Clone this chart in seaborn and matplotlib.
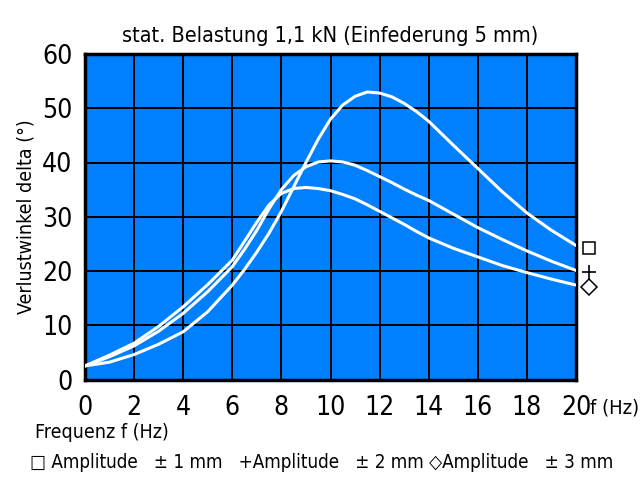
import matplotlib
matplotlib.use("Agg")
import matplotlib.pyplot as plt
import matplotlib.transforms as mtransforms
import seaborn as sns
import pandas as pd

# ---- data ----
freq = [0, 1, 2, 3, 4, 5, 6, 6.5, 7, 7.5, 8, 8.5, 9, 9.5, 10, 10.5, 11, 11.5, 12,
        12.5, 13, 13.5, 14, 15, 16, 17, 18, 19, 20]
amp1 = [2.5, 3.2, 4.6, 6.5, 8.8, 12.5, 17.4, 20.3, 23.5, 27.0, 31.0, 35.5, 40.0,
        44.3, 48.0, 50.6, 52.2, 53.0, 52.8, 52.1, 50.9, 49.4, 47.6, 43.2, 38.9,
        34.6, 30.7, 27.5, 24.7]
amp2 = [2.5, 4.2, 6.2, 8.9, 12.2, 16.2, 20.8, 24.0, 27.5, 31.5, 35.0, 37.6, 39.2,
        40.1, 40.3, 40.1, 39.5, 38.5, 37.4, 36.3, 35.1, 34.0, 33.0, 30.5, 28.0,
        25.8, 23.7, 21.8, 20.1]
amp3 = [2.5, 4.5, 6.7, 9.8, 13.4, 17.5, 22.0, 25.5, 29.0, 32.2, 34.3, 35.2, 35.4,
        35.2, 34.8, 34.1, 33.3, 32.2, 31.0, 29.8, 28.6, 27.3, 26.1, 24.2, 22.6,
        21.0, 19.7, 18.5, 17.4]
series_names = ["Amplitude ± 1 mm", "Amplitude ± 2 mm", "Amplitude ± 3 mm"]
end_markers = ["s", "+", "D"]
x_ticks = [0, 2, 4, 6, 8, 10, 12, 14, 16, 18, 20]
y_ticks = [0, 10, 20, 30, 40, 50, 60]
title = "stat. Belastung 1,1 kN (Einfederung 5 mm)"
ylabel = "Verlustwinkel delta (°)"
xlabel = "Frequenz f (Hz)"
legend_text = "□ Amplitude   ± 1 mm   +Amplitude   ± 2 mm ◇Amplitude   ± 3 mm"

sns.set_style("white")
plt.rcParams["font.family"] = ["Liberation Sans Narrow", "DejaVu Sans"]
plt.rcParams["font.stretch"] = "condensed"
plt.rcParams["text.color"] = "black"
plt.rcParams["axes.labelcolor"] = "black"
plt.rcParams["xtick.color"] = "black"
plt.rcParams["ytick.color"] = "black"

rows = []
for name, vals in zip(series_names, [amp1, amp2, amp3]):
    for f, v in zip(freq, vals):
        rows.append({"f": f, "delta": v, "series": name})
df = pd.DataFrame(rows)

fig = plt.figure(figsize=(6.42, 4.8), dpi=100)
ax = fig.add_axes([85 / 642, 1 - 379.5 / 480, (576 - 85) / 642, (379.5 - 54) / 480])
ax.set_facecolor("#0080ff")

sns.lineplot(data=df, x="f", y="delta", hue="series", palette=["white"] * 3,
             legend=False, linewidth=2.2, ax=ax, zorder=3)

ax.set_xlim(0, 20)
ax.set_ylim(0, 60)
ax.set_xticks(x_ticks)
ax.set_yticks(y_ticks)
ax.set_xticklabels([str(t) for t in x_ticks], fontsize=19)
ax.set_yticklabels([str(t) for t in y_ticks], fontsize=19)
ax.tick_params(axis="both", direction="out", length=8, width=1.3, color="black")
ax.tick_params(axis="x", pad=3)
ax.tick_params(axis="y", pad=1)
ax.grid(True, color="black", linewidth=1.4)
ax.set_axisbelow(True)
for s in ax.spines.values():
    s.set_visible(True)
    s.set_color("black")
    s.set_linewidth(2.5)
ax.set_xlabel("")
ax.set_ylabel(ylabel, fontsize=14, labelpad=5)

ax.set_title(title, fontsize=15.5, pad=9)

# end markers just outside the right edge
off = mtransforms.offset_copy(ax.transData, fig=fig, x=13, y=-2, units="dots")
for vals, m in zip([amp1, amp2, amp3], end_markers):
    if m == "+":
        ax.plot([freq[-1]], [vals[-1]], marker=m, markersize=10, color="black",
                mew=1.2, transform=off, clip_on=False, linestyle="none")
    else:
        ax.plot([freq[-1]], [vals[-1]], marker=m, markersize=9 if m == "s" else 8,
                markerfacecolor="white", markeredgecolor="black", mew=1.1,
                transform=off, clip_on=False, linestyle="none")

fig.text(590 / 642, 1 - 408 / 480, "f (Hz)", fontsize=14.5, ha="left", va="center")
fig.text(35 / 642, 1 - 433 / 480, xlabel, fontsize=14, ha="left", va="center")
fig.text(30 / 642, 1 - 463 / 480, legend_text, fontsize=13.5, ha="left", va="center")

fig.savefig("out.png", dpi=100, facecolor="white")
